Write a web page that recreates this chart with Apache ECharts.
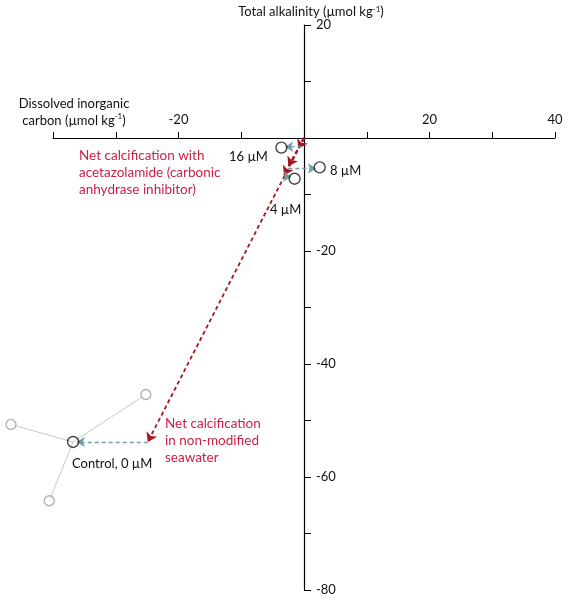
<!DOCTYPE html>
<html>
<head>
<meta charset="utf-8">
<script src="https://cdn.jsdelivr.net/npm/echarts@6/dist/echarts.min.js"></script>
<style>
  html, body { margin: 0; padding: 0; background: #fff; }
  #chart { width: 568px; height: 600px; }
</style>
</head>
<body>
<div id="chart"></div>
<script>
// values (DIC, TA in µmol kg-1)
const origin = [0, 0];
const controlPoint = [-36.8, -53.8];
const controlReplicates = [[-25.2, -45.4], [-46.7, -50.7], [-40.6, -64.2]];
const inhibitorPoints = [[-3.6, -1.7], [2.5, -5.2], [-1.5, -7.2]]; // 16, 8, 4 µM
const calcEnds = [[-0.9, -1.9], [-2.5, -5.0], [-3.2, -6.6], [-24.9, -53.8]]; // red arrow tips
const co2Arrows = [
  [[-0.4, -1.5], [-3.0, -1.6]],
  [[-2.5, -5.4], [1.9, -5.4]],
  [[-3.1, -6.8], [-2.0, -6.9]],
  [[-24.9, -53.8], [-36.2, -53.8]]
];
const xTickLabels = [-20, 20, 40];
const yTickLabels = [20, -20, -40, -60, -80];

const font = "Lato";
const gridLeft = 53, gridRight = 13, gridTop = 25, gridBottom = 10;
const W = 568, H = 600;
// axes are drawn through zero: shift them from the grid edge
const zeroY = gridTop + (H - gridTop - gridBottom) * (20 / 100);
const zeroX = gridLeft + (W - gridLeft - gridRight) * (40 / 80);

const chart = echarts.init(document.getElementById("chart"));

const option = {
  animation: false,
  grid: { left: gridLeft, right: gridRight, top: gridTop, bottom: gridBottom },
  xAxis: {
    type: "value",
    position: "top",
    offset: -(zeroY - gridTop),
    min: -40,
    max: 40,
    interval: 10,
    splitLine: { show: false },
    axisLine: { onZero: false, lineStyle: { color: "#000", width: 1.2 } },
    axisTick: { length: 6, lineStyle: { color: "#000" } },
    axisLabel: {
      margin: 12,
      color: "#111",
      fontFamily: font,
      fontSize: 13,
      formatter: (v) => (xTickLabels.includes(v) ? String(v) : "")
    }
  },
  yAxis: {
    type: "value",
    position: "right",
    offset: -(W - gridRight - zeroX),
    min: -80,
    max: 20,
    interval: 10,
    splitLine: { show: false },
    axisLine: { onZero: false, lineStyle: { color: "#000", width: 1.2 } },
    axisTick: { length: 7, lineStyle: { color: "#000" } },
    axisLabel: {
      margin: 12,
      color: "#111",
      fontFamily: font,
      fontSize: 13,
      formatter: (v) => (yTickLabels.includes(v) ? String(v) : "")
    }
  },
  series: [
    {
      // replicate spokes
      type: "lines",
      coordinateSystem: "cartesian2d",
      clip: false,
      z: 1,
      symbol: "none",
      lineStyle: { color: "#c8c8c8", width: 1, opacity: 1 },
      data: controlReplicates.map((p) => ({ coords: [controlPoint, p] }))
    },
    {
      type: "scatter",
      clip: false,
      z: 3,
      symbol: "circle",
      symbolSize: 10,
      itemStyle: { color: "#fff", borderColor: "#9a9a9a", borderWidth: 1.3 },
      data: controlReplicates
    },
    {
      // net calcification (red)
      type: "lines",
      coordinateSystem: "cartesian2d",
      clip: false,
      z: 2,
      symbol: ["none", "arrow"],
      symbolSize: 9,
      lineStyle: { color: "#a8141f", width: 1.8, type: [4, 3], opacity: 1 },
      data: calcEnds.map((p) => ({ coords: [origin, p] }))
    },
    {
      // CO2 uptake (teal)
      type: "lines",
      coordinateSystem: "cartesian2d",
      clip: false,
      z: 2,
      symbol: ["none", "arrow"],
      symbolSize: 8,
      lineStyle: { color: "#6f9fa6", width: 1.3, type: [4, 3], opacity: 1 },
      data: co2Arrows.map((c) => ({ coords: c }))
    },
    {
      type: "scatter",
      clip: false,
      z: 4,
      symbol: "circle",
      symbolSize: 11,
      itemStyle: { color: "rgba(255,255,255,0)", borderColor: "#111", borderWidth: 1.4 },
      data: inhibitorPoints.concat([controlPoint])
    }
  ],
  graphic: [
    {
      type: "text",
      x: 311,
      y: 12,
      style: {
        text: "Total alkalinity (µmol kg{s|-1})",
        rich: { s: { fontSize: 8, verticalAlign: "top", padding: [0, 0, 6, 0], fontFamily: font, fill: "#111" } },
        fontFamily: font,
        fontSize: 13,
        fill: "#111",
        align: "center",
        verticalAlign: "middle"
      }
    },
    {
      type: "text",
      x: 74,
      y: 112,
      style: {
        text: "Dissolved inorganic\ncarbon (µmol kg{s|-1})",
        rich: { s: { fontSize: 8, verticalAlign: "top", padding: [0, 0, 6, 0], fontFamily: font, fill: "#111" } },
        fontFamily: font,
        fontSize: 13,
        lineHeight: 17,
        fill: "#111",
        align: "center",
        verticalAlign: "middle"
      }
    },
    { type: "text", x: 229, y: 157, style: { text: "16 µM", fontFamily: font, fontSize: 13, fill: "#111", verticalAlign: "middle" } },
    { type: "text", x: 330, y: 171, style: { text: "8 µM", fontFamily: font, fontSize: 13, fill: "#111", verticalAlign: "middle" } },
    { type: "text", x: 270, y: 210, style: { text: "4 µM", fontFamily: font, fontSize: 13, fill: "#111", verticalAlign: "middle" } },
    { type: "text", x: 72, y: 464, style: { text: "Control, 0 µM", fontFamily: font, fontSize: 13, fill: "#111", verticalAlign: "middle" } },
    {
      type: "text",
      x: 79,
      y: 173,
      style: {
        text: "Net calcification with\nacetazolamide (carbonic\nanhydrase inhibitor)",
        fontFamily: font,
        fontSize: 13.5,
        lineHeight: 17,
        fill: "#cc2045",
        verticalAlign: "middle"
      }
    },
    {
      type: "text",
      x: 165,
      y: 441,
      style: {
        text: "Net calcification\nin non-modified\nseawater",
        fontFamily: font,
        fontSize: 13.5,
        lineHeight: 17,
        fill: "#cc2045",
        verticalAlign: "middle"
      }
    }
  ]
};

chart.setOption(option);
</script>
</body>
</html>
